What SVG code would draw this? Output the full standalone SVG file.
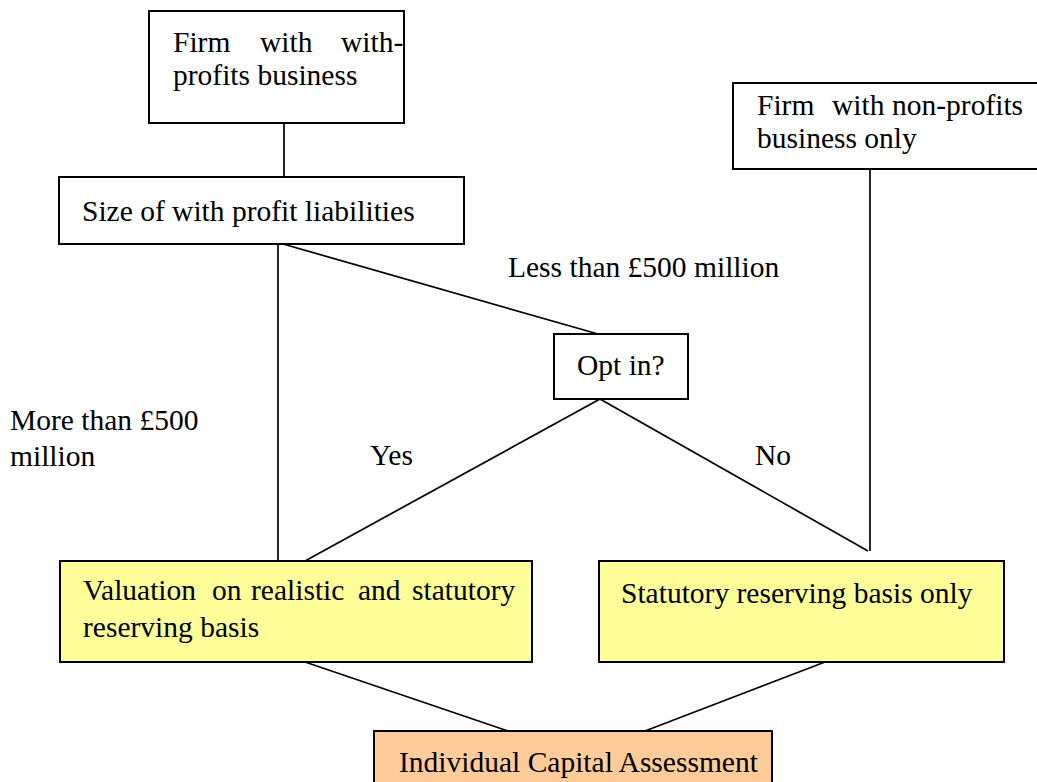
<svg xmlns="http://www.w3.org/2000/svg" width="1037" height="782" viewBox="0 0 1037 782">
  <style>
    text { font-family: "Liberation Serif", "Times New Roman", serif; font-size: 29.5px; fill: #000; }
    .box { fill: #fff; stroke: #000; stroke-width: 2; }
    .yellow { fill: #ffff99; }
    .orange { fill: #ffcc99; }
    .wire { stroke: #000; stroke-width: 1.7; fill: none; }
  </style>
  <rect width="1037" height="782" fill="#fff"/>

  <!-- connectors -->
  <g id="connectors">
    <line class="wire" x1="284" y1="123" x2="284" y2="177"/>
    <line class="wire" x1="870" y1="169" x2="870" y2="551"/>
    <line class="wire" x1="278" y1="244" x2="278" y2="561"/>
    <line class="wire" x1="283" y1="244" x2="598" y2="334"/>
    <line class="wire" x1="600" y1="399" x2="305" y2="561"/>
    <line class="wire" x1="600" y1="399" x2="868" y2="551"/>
    <line class="wire" x1="305" y1="662" x2="508" y2="731"/>
    <line class="wire" x1="825" y1="662" x2="645" y2="731"/>
  </g>

  <!-- edge labels -->
  <g id="labels">
    <text x="508" y="277">Less than £500 million</text>
    <text x="10" y="430">More than £500</text>
    <text x="10" y="466">million</text>
    <text x="370" y="465">Yes</text>
    <text x="755" y="465">No</text>
  </g>

  <g id="firm-with-profits">
    <rect class="box" x="149" y="11" width="255" height="112"/>
    <text y="52"><tspan x="173">Firm</tspan><tspan x="260">with</tspan><tspan x="341">with-</tspan></text>
    <text x="173" y="85">profits business</text>
  </g>

  <g id="firm-non-profits">
    <rect class="box" x="733" y="83" width="310" height="86"/>
    <text y="115"><tspan x="757">Firm</tspan><tspan x="832">with</tspan><tspan x="892">non-profits</tspan></text>
    <text x="757" y="148">business only</text>
  </g>

  <g id="size-liabilities">
    <rect class="box" x="59" y="177" width="405" height="67"/>
    <text x="82" y="221">Size of with profit liabilities</text>
  </g>

  <g id="opt-in">
    <rect class="box" x="554" y="334" width="134" height="65"/>
    <text x="577" y="375">Opt in?</text>
  </g>

  <g id="realistic-statutory">
    <rect class="box yellow" x="60" y="561" width="472" height="101"/>
    <text y="600"><tspan x="83">Valuation</tspan><tspan x="212">on</tspan><tspan x="251">realistic</tspan><tspan x="358">and</tspan><tspan x="412">statutory</tspan></text>
    <text x="83" y="637">reserving basis</text>
  </g>

  <g id="statutory-only">
    <rect class="box yellow" x="599" y="561" width="405" height="101"/>
    <text x="621" y="603">Statutory reserving basis only</text>
  </g>

  <g id="ica">
    <rect class="box orange" x="374" y="731" width="398" height="60"/>
    <text x="399" y="772">Individual Capital Assessment</text>
  </g>
</svg>
